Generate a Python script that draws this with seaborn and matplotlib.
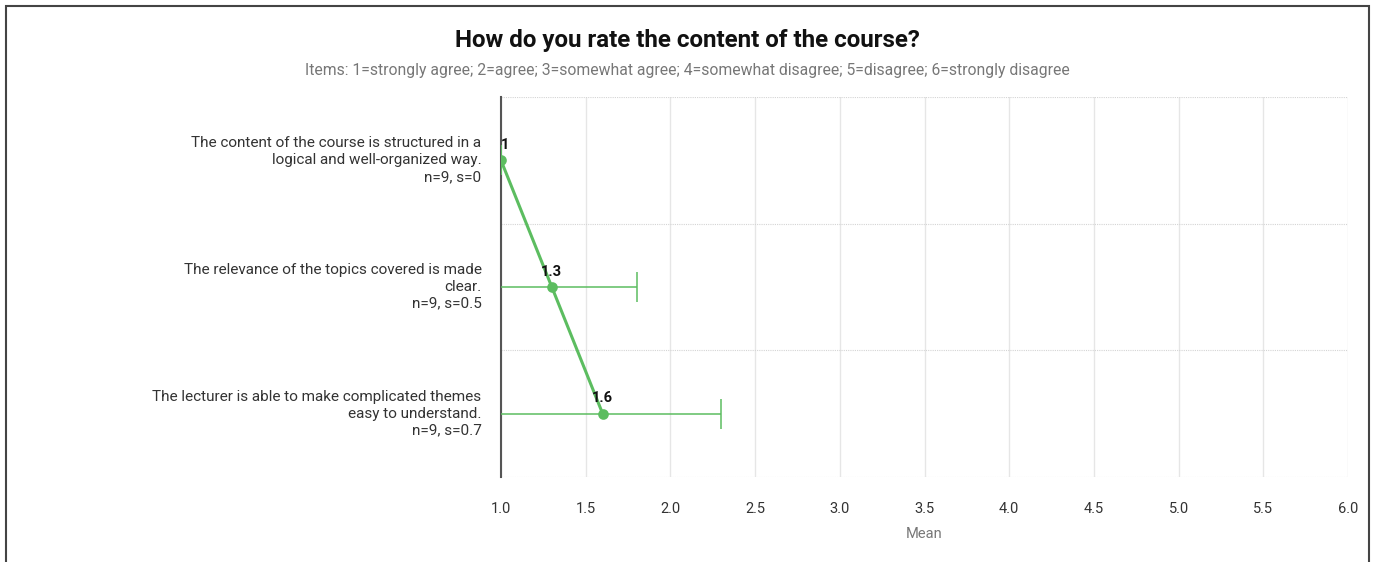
import matplotlib
matplotlib.use('Agg')
import matplotlib.pyplot as plt
import matplotlib.patches as patches
import matplotlib.transforms as mtransforms
import seaborn as sns
import pandas as pd

# Chart data
items = [
    'The content of the course is structured in a\nlogical and well-organized way.\nn=9, s=0',
    'The relevance of the topics covered is made\nclear.\nn=9, s=0.5',
    'The lecturer is able to make complicated themes\neasy to understand.\nn=9, s=0.7',
]
means = [1.0, 1.3, 1.6]
std_devs = [0.0, 0.5, 0.7]
value_labels = ['1', '1.3', '1.6']
x_ticks = [1.0, 1.5, 2.0, 2.5, 3.0, 3.5, 4.0, 4.5, 5.0, 5.5, 6.0]

df = pd.DataFrame({'Item': items, 'Mean': means, 'SD': std_devs})

sns.set_style('white')
plt.rcParams['font.family'] = ['Roboto', 'DejaVu Sans']

green = '#5cbd60'

fig = plt.figure(figsize=(13.75, 5.62), dpi=100)
ax = fig.add_axes([501 / 1375, 1 - 477 / 562, (1348 - 501) / 1375, (477 - 97) / 562])

# error bars first, then line and points
ax.errorbar(df['Mean'], range(len(df)), xerr=df['SD'], fmt='none',
            ecolor=green, elinewidth=1.1, capsize=10.5, capthick=1.1, zorder=3)
sns.pointplot(data=df, x='Mean', y='Item', orient='h', color=green,
              errorbar=None, markersize=6, linewidth=2.2, ax=ax, zorder=4)

for i, (m, lab) in enumerate(zip(means, value_labels)):
    ax.annotate(lab, (m, i), xytext=(0, 6), textcoords='offset points',
                ha='center' if i else 'left', va='bottom', fontsize=10.5,
                fontweight='bold', color='#111111', zorder=5)

ax.set_xlim(1.0, 6.0)
ax.set_ylim(2.5, -0.5)
ax.set_xticks(x_ticks)
ax.set_xticklabels([f'{t:.1f}' for t in x_ticks])
ax.set_yticks([-0.5, 0.5, 1.5, 2.5], minor=True)

ax.grid(axis='x', which='major', color='#e6e6e6', linewidth=1.0)
ax.grid(axis='y', which='minor', color='#d4d4d4', linestyle=(0, (1, 1)), linewidth=0.8)
ax.grid(axis='y', which='major', visible=False)
ax.set_axisbelow(True)

for side in ['top', 'right', 'bottom']:
    ax.spines[side].set_visible(False)
ax.spines['left'].set_color('#555555')
ax.spines['left'].set_linewidth(1.5)

ax.tick_params(axis='x', which='both', length=0, pad=18, labelsize=10.5, labelcolor='#333333')
ax.tick_params(axis='y', which='both', length=0, pad=14, labelsize=11, labelcolor='#333333')
shift_up = mtransforms.ScaledTranslation(0, 3 / 100, fig.dpi_scale_trans)
for lbl in ax.get_yticklabels():
    lbl.set_multialignment('right')
    lbl.set_linespacing(1.25)
    lbl.set_transform(lbl.get_transform() + shift_up)

ax.set_ylabel('')
ax.set_xlabel('Mean', fontsize=10.5, color='#777777', labelpad=8)

fig.text(0.5, 1 - 40 / 562, 'How do you rate the content of the course?',
         ha='center', va='center', fontsize=17.4, fontweight='bold', color='#111111')
fig.text(0.5, 1 - 70 / 562,
         'Items: 1=strongly agree; 2=agree; 3=somewhat agree; 4=somewhat disagree; 5=disagree; 6=strongly disagree',
         ha='center', va='center', fontsize=11.3, color='#777777')

# outer frame (bottom edge is cut off)
frame = patches.Rectangle((6 / 1375, -0.05), (1369 - 6) / 1375, 1.05 - 6 / 562,
                          transform=fig.transFigure, fill=False,
                          edgecolor='#444444', linewidth=1.5)
fig.patches.append(frame)

fig.savefig('out.png', dpi=100)
